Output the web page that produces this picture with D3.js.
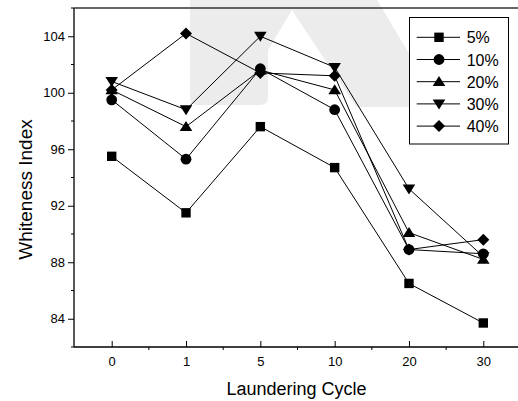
<!DOCTYPE html>
<html lang="en">

<head>
  <meta charset="UTF-8" />
  <title>Whiteness Index</title>
  <script src="https://cdn.jsdelivr.net/npm/d3@7"></script>
  <style>
    body {
      margin: 0;
      background: #fff;
    }

    text {
      font-family: Arial, "Liberation Sans", sans-serif;
      fill: #000;
    }
  </style>
</head>

<body>
  <svg id="chart" width="518" height="401"></svg>

  <script>
    // data
    let cycles = ["0", "1", "5", "10", "20", "30"];
    let s5 = [95.5, 91.5, 97.6, 94.7, 86.5, 83.7];
    let s10 = [99.5, 95.3, 101.7, 98.8, 88.9, 88.6];
    let s20 = [100.2, 97.6, 101.6, 100.2, 90.1, 88.2];
    let s30 = [100.8, 98.8, 104.0, 101.8, 93.2, 88.4];
    let s40 = [100.2, 104.2, 101.4, 101.2, 88.9, 89.6];
    let seriesNames = ["5%", "10%", "20%", "30%", "40%"];
    let yTicks = [84, 88, 92, 96, 100, 104];

    let series = [s5, s10, s20, s30, s40];
    let shapes = ["square", "circle", "up", "down", "diamond"];

    let svg = d3.select("#chart");

    // plot box
    let plotLeft = 74, plotTop = 8, plotBottom = 347;

    let x = d3.scalePoint().domain(cycles).range([111.7, 483.3]);
    let step = x.step();
    let y = d3.scaleLinear().domain([82, 106]).range([plotBottom, plotTop]);

    // faint watermark behind the plot
    svg.append("path")
      .attr("d", "M190,0 L377,0 L441,107 L356,107 L292,10 L268,50 L268,97 Q268,105 260,105 L198,105 Q190,105 190,97 Z")
      .style("fill", "#ececec");

    function marker(shape) {
      if (shape == "square") return "M-4.7,-4.7H4.7V4.7H-4.7Z";
      if (shape == "circle") return "M5.4,0A5.4,5.4 0 1,1 -5.4,0A5.4,5.4 0 1,1 5.4,0Z";
      if (shape == "up") return "M0,-5.6L6.3,4.4L-6.3,4.4Z";
      if (shape == "down") return "M0,5.6L6.3,-4.4L-6.3,-4.4Z";
      return "M0,-6L6,0L0,6L-6,0Z";
    }

    // y axis: major ticks outward, minor in between
    let yAxis = svg.append("g").attr("transform", "translate(" + plotLeft + ",0)")
      .call(d3.axisLeft(y).tickValues(yTicks).tickSize(6).tickPadding(3).tickSizeOuter(0));
    yAxis.select(".domain").remove();
    yAxis.selectAll("text").style("font-size", "13px").attr("font-family", null);
    svg.append("g").selectAll("line")
      .data(yTicks.map(v => v - 2).concat([104 + 2]))
      .join("line")
      .attr("x1", plotLeft - 3).attr("x2", plotLeft)
      .attr("y1", d => y(d)).attr("y2", d => y(d))
      .attr("stroke", "#000");

    // x axis: major ticks inward, minor outward
    let xAxis = svg.append("g").attr("transform", "translate(0," + plotBottom + ")")
      .call(d3.axisBottom(x).tickSize(-6).tickPadding(10).tickSizeOuter(0));
    xAxis.select(".domain").remove();
    xAxis.selectAll("text").style("font-size", "13px").attr("font-family", null);
    svg.append("g").selectAll("line")
      .data(cycles)
      .join("line")
      .attr("x1", d => x(d) + step / 2).attr("x2", d => x(d) + step / 2)
      .attr("y1", plotBottom).attr("y2", plotBottom + 3)
      .attr("stroke", "#000");

    // frame lines
    svg.append("line").attr("x1", plotLeft).attr("x2", plotLeft).attr("y1", plotTop).attr("y2", plotBottom)
      .attr("stroke", "#000").attr("stroke-width", 1.3);
    svg.append("line").attr("x1", plotLeft).attr("x2", 518).attr("y1", plotBottom).attr("y2", plotBottom)
      .attr("stroke", "#000").attr("stroke-width", 1.3);
    svg.append("line").attr("x1", plotLeft).attr("x2", 518).attr("y1", plotTop).attr("y2", plotTop)
      .attr("stroke", "#333").attr("stroke-width", 1.5);

    // series lines and markers
    let line = d3.line().x((d, i) => x(cycles[i])).y(d => y(d));
    series.forEach(function (s) {
      svg.append("path").datum(s).attr("d", line)
        .attr("fill", "none").attr("stroke", "#000").attr("stroke-width", 1);
    });
    series.forEach(function (s, k) {
      svg.append("g").selectAll("path").data(s).join("path")
        .attr("transform", (d, i) => "translate(" + x(cycles[i]) + "," + y(d) + ")")
        .attr("d", marker(shapes[k]))
        .attr("fill", "#000");
    });

    // axis titles
    svg.append("text").attr("x", 296.5).attr("y", 395)
      .attr("text-anchor", "middle").style("font-size", "18px").text("Laundering Cycle");
    svg.append("text").attr("transform", "translate(32,189.5) rotate(-90)")
      .attr("text-anchor", "middle").style("font-size", "19px").text("Whiteness Index");

    // legend
    let legend = svg.append("g");
    legend.append("rect").attr("x", 409.5).attr("y", 17.5).attr("width", 99).attr("height", 126.5)
      .attr("fill", "#fff").attr("stroke", "#000").attr("stroke-width", 1);
    seriesNames.forEach(function (name, k) {
      let ly = 37.3 + k * 22.2;
      legend.append("line").attr("x1", 416.7).attr("x2", 460).attr("y1", ly).attr("y2", ly)
        .attr("stroke", "#000");
      legend.append("path").attr("transform", "translate(439," + ly + ")")
        .attr("d", marker(shapes[k])).attr("fill", "#000");
      legend.append("text").attr("x", 466.7).attr("y", ly + 6)
        .style("font-size", "16px").text(name);
    });
  </script>
</body>

</html>
